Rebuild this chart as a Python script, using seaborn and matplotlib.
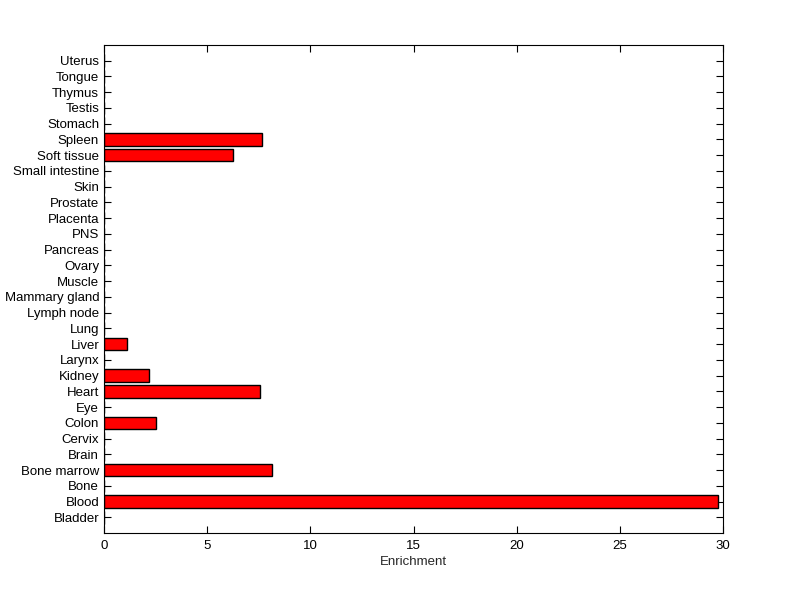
import matplotlib
matplotlib.use("Agg")
import matplotlib.pyplot as plt
import seaborn as sns
import pandas as pd

# tissues from bottom to top, as in the reference
tissues = ['Bladder', 'Blood', 'Bone', 'Bone marrow', 'Brain', 'Cervix', 'Colon',
           'Eye', 'Heart', 'Kidney', 'Larynx', 'Liver', 'Lung', 'Lymph node',
           'Mammary gland', 'Muscle', 'Ovary', 'Pancreas', 'PNS', 'Placenta',
           'Prostate', 'Skin', 'Small intestine', 'Soft tissue', 'Spleen',
           'Stomach', 'Testis', 'Thymus', 'Tongue', 'Uterus']
enrichment = [0, 29.74, 0, 8.13, 0, 0, 2.50,
              0, 7.54, 2.16, 0, 1.13, 0, 0,
              0, 0, 0, 0, 0, 0,
              0, 0, 0, 6.27, 7.67,
              0, 0, 0, 0, 0]

df = pd.DataFrame({'Tissue': tissues, 'Enrichment': enrichment})

sns.set_style('white')
plt.rcParams['font.family'] = ['Liberation Sans', 'DejaVu Sans']

fig = plt.figure(figsize=(8, 5.99), dpi=100)
ax = fig.add_axes([0.13, 0.11, 0.774, 0.815])

order = tissues[::-1]  # seaborn puts the first category at the top
sns.barplot(data=df, x='Enrichment', y='Tissue', order=order, orient='h',
            color='#ff0000', saturation=1, edgecolor='black', linewidth=1,
            width=0.8, ax=ax)

ax.set_xlim(0, 30)
ax.set_ylim(len(tissues), -1)
ax.set_xticks([0, 5, 10, 15, 20, 25, 30])
ax.set_xlabel('Enrichment', fontsize=9.5, labelpad=3)
ax.set_ylabel('')
ax.tick_params(axis='both', labelsize=9.5, direction='in', length=5, width=0.8,
               top=True, right=True, bottom=True, left=True, colors='black')
ax.tick_params(axis='x', pad=5)
for s in ax.spines.values():
    s.set_visible(True)
    s.set_color('black')
    s.set_linewidth(0.8)

fig.savefig('out.png', dpi=100, facecolor='white')
